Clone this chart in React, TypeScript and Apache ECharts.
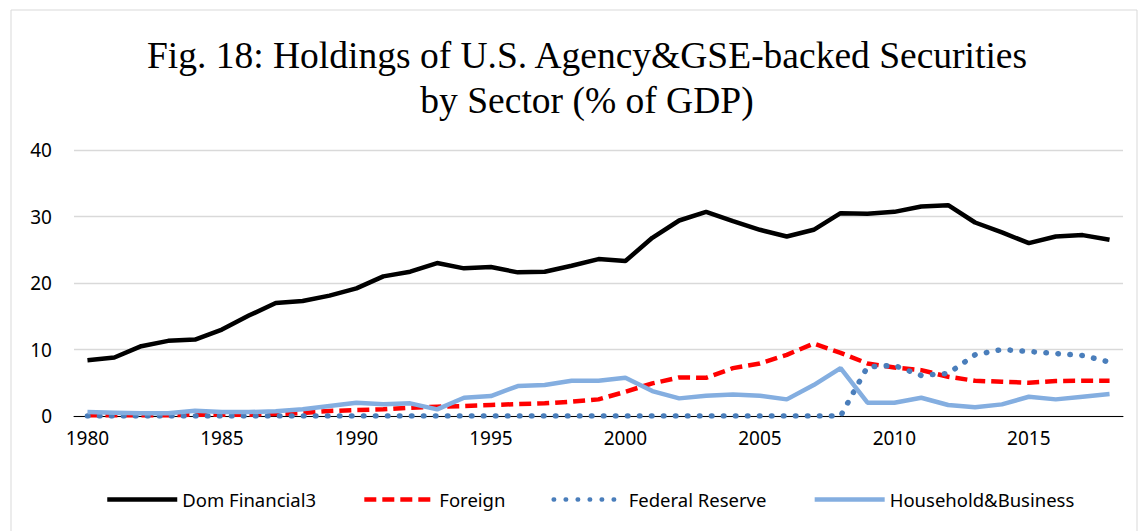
import React, { useEffect, useRef } from "react";
import * as echarts from "echarts";

const years = Array.from({ length: 39 }, (_, i) => String(1980 + i));

const domFinancial = [
  8.4, 8.8, 10.5, 11.3, 11.5, 13.0, 15.1, 17.0, 17.3, 18.1,
  19.2, 21.0, 21.7, 23.0, 22.2, 22.4, 21.6, 21.7, 22.6, 23.6,
  23.3, 26.8, 29.4, 30.7, 29.3, 28.0, 27.0, 28.0, 30.5, 30.4,
  30.7, 31.5, 31.7, 29.1, 27.6, 26.0, 27.0, 27.2, 26.5,
];

const foreign = [
  0.1, 0.1, 0.1, 0.1, 0.2, 0.2, 0.2, 0.3, 0.45, 0.75,
  0.9, 1.0, 1.25, 1.4, 1.5, 1.65, 1.8, 1.9, 2.15, 2.5,
  3.65, 4.9, 5.8, 5.75, 7.2, 7.9, 9.2, 10.9, 9.5, 7.9,
  7.3, 6.9, 5.9, 5.3, 5.15, 5.0, 5.25, 5.3, 5.3,
];

const federalReserve = [
  0, 0, 0, 0, 0, 0, 0, 0, 0, 0,
  0, 0, 0, 0, 0, 0, 0, 0, 0, 0,
  0, 0, 0, 0, 0, 0, 0, 0, 0, 7.4,
  7.6, 6.1, 6.4, 9.2, 10.0, 9.7, 9.4, 9.1, 8.1,
];

const householdBusiness = [
  0.6, 0.5, 0.4, 0.4, 0.8, 0.6, 0.6, 0.7, 1.0, 1.5,
  2.0, 1.75, 1.9, 1.0, 2.75, 3.0, 4.5, 4.65, 5.3, 5.3,
  5.75, 3.75, 2.65, 3.05, 3.25, 3.05, 2.5, 4.65, 7.2, 2.0,
  2.0, 2.75, 1.65, 1.3, 1.75, 2.9, 2.5, 2.9, 3.3,
];

const titleLines = [
  "Fig. 18: Holdings of U.S. Agency&GSE-backed Securities",
  "by Sector (% of GDP)",
];

const sans = "'Noto Sans', 'Open Sans', sans-serif";
const serif = "'Liberation Serif', 'Times New Roman', serif";

export default function App() {
  const ref = useRef<HTMLDivElement>(null);

  useEffect(() => {
    if (!ref.current) return;
    const chart = echarts.init(ref.current, null, { renderer: "svg" });
    chart.setOption({
      animation: false,
      backgroundColor: "#ffffff",
      graphic: [
        {
          type: "rect",
          shape: { x: 11, y: 10, width: 1126, height: 540 },
          style: { fill: "none", stroke: "#d9d9d9", lineWidth: 1 },
          silent: true,
        },
        {
          type: "text",
          x: 587,
          y: 55,
          style: {
            text: titleLines[0],
            fontFamily: serif,
            fontSize: 37.5,
            fill: "#000",
            textAlign: "center",
            textVerticalAlign: "middle",
          },
        },
        {
          type: "text",
          x: 587,
          y: 100,
          style: {
            text: titleLines[1],
            fontFamily: serif,
            fontSize: 37.5,
            fill: "#000",
            textAlign: "center",
            textVerticalAlign: "middle",
          },
        },
      ],
      grid: { left: 74, right: 24, top: 150, bottom: 115, containLabel: false },
      legend: {
        bottom: 17,
        left: 100,
        itemWidth: 70,
        itemHeight: 6,
        itemGap: 46,
        lineStyle: { width: 4.5 },
        textStyle: { fontFamily: sans, fontSize: 18.5, color: "#000" },
        data: ["Dom Financial3", "Foreign", "Federal Reserve", "Household&Business"],
      },
      xAxis: {
        type: "category",
        data: years,
        boundaryGap: true,
        axisLine: { lineStyle: { color: "#000", width: 1 } },
        axisTick: { interval: 4, length: 6, lineStyle: { color: "#000" } },
        axisLabel: {
          interval: 4,
          fontFamily: sans,
          fontSize: 19,
          color: "#000",
          margin: 12,
        },
        splitLine: { show: false },
      },
      yAxis: {
        type: "value",
        min: 0,
        max: 40,
        interval: 10,
        axisLine: { show: false },
        axisTick: { show: false },
        axisLabel: { fontFamily: sans, fontSize: 19, color: "#000", margin: 22 },
        splitLine: { lineStyle: { color: "#d9d9d9", width: 1.3 } },
      },
      series: [
        {
          name: "Dom Financial3",
          type: "line",
          data: domFinancial,
          symbol: "none",
          lineStyle: { color: "#000000", width: 4.5 },
          itemStyle: { color: "#000000", opacity: 0 },
        },
        {
          name: "Foreign",
          type: "line",
          data: foreign,
          symbol: "none",
          lineStyle: { color: "#ff0000", width: 4.5, type: [12, 6] },
          itemStyle: { color: "#ff0000", opacity: 0 },
        },
        {
          name: "Federal Reserve",
          type: "line",
          data: federalReserve,
          symbol: "none",
          lineStyle: { color: "#4a7ebb", width: 5.5, type: [0.5, 11.5], cap: "round" },
          itemStyle: { color: "#4a7ebb", opacity: 0 },
        },
        {
          name: "Household&Business",
          type: "line",
          data: householdBusiness,
          symbol: "none",
          lineStyle: { color: "#84aee0", width: 4.5 },
          itemStyle: { color: "#84aee0", opacity: 0 },
        },
      ],
    });
    return () => chart.dispose();
  }, []);

  return (
    <div
      ref={ref}
      style={{ position: "fixed", left: 0, top: 0, width: 1147, height: 531 }}
    />
  );
}
